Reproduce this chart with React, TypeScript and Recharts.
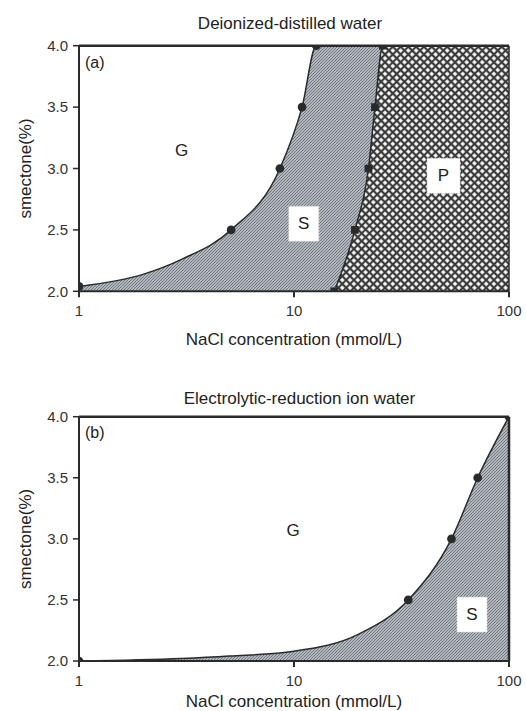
import React from 'react';
import {
  ComposedChart,
  Area,
  Scatter,
  XAxis,
  YAxis,
  ZAxis,
  ReferenceLine,
  ReferenceDot,
} from 'recharts';

// ---------- Data ----------
// Panel (a): Deionized-distilled water
const aGelSolConc = [1, 5.1, 8.6, 10.9, 12.7];
const aGelSolSmectone = [2.04, 2.5, 3.0, 3.5, 4.0];
const aGelSolCurveConc = [1, 2, 3, 5.1, 8.6, 10.9, 12.7, 100];
const aGelSolCurveSmectone = [2.04, 2.14, 2.26, 2.5, 3.0, 3.5, 4.0, 4.0];
const aSolPptConc = [15.4, 19.2, 22.2, 23.8, 25.9];
const aSolPptSmectone = [2.0, 2.5, 3.0, 3.5, 4.0];
const aSolPptCurveConc = [15.4, 19.2, 22.2, 23.8, 25.9, 100];
const aSolPptCurveSmectone = [2.0, 2.5, 3.0, 3.5, 4.0, 4.0];

// Panel (b): Electrolytic-reduction ion water
const bGelSolConc = [1, 34, 54, 71.5, 100];
const bGelSolSmectone = [2.0, 2.5, 3.0, 3.5, 4.0];
const bGelSolCurveConc = [1, 3, 5, 10, 20, 34, 54, 71.5, 100];
const bGelSolCurveSmectone = [2.0, 2.02, 2.04, 2.08, 2.22, 2.5, 3.0, 3.5, 4.0];

// Axes
const xTicks = [1, 10, 100];
const yTicks = [2.0, 2.5, 3.0, 3.5, 4.0];
const xDomain = [1, 100];
const yDomain = [2, 4];

const FONT = '"Liberation Sans", Arial, Helvetica, sans-serif';
const INK = '#2a2a2a';

const toPoints = (xs: number[], ys: number[]) =>
  xs.map((x, i) => ({ conc: x, smectone: ys[i] }));

const boxLabel = (text: string, w: number, h: number, boxed: boolean) => (props: any) => {
  const { cx, cy } = props;
  return (
    <g>
      {boxed && (
        <rect
          x={cx - w / 2}
          y={cy - h / 2}
          width={w}
          height={h}
          fill="#ffffff"
          stroke="#d0d0d0"
          strokeDasharray="1 1"
        />
      )}
      <text
        x={cx}
        y={cy}
        textAnchor="middle"
        dominantBaseline="central"
        fontSize={17}
        fontFamily={FONT}
        fill="#222"
      >
        {text}
      </text>
    </g>
  );
};

const Patterns = () => (
  <defs>
    <pattern id="hatchS" width="3" height="3" patternUnits="userSpaceOnUse">
      <rect width="3" height="3" fill="#b3b7be" />
      <path d="M-1,1 L1,-1 M0,3 L3,0 M2,4 L4,2" stroke="#6a6f78" strokeWidth="0.9" />
    </pattern>
    <pattern
      id="crossP"
      width="5.5"
      height="5.5"
      patternUnits="userSpaceOnUse"
      patternTransform="rotate(45)"
    >
      <rect width="5.5" height="5.5" fill="#ffffff" />
      <path d="M0,2.75 L5.5,2.75 M2.75,0 L2.75,5.5" stroke="#3a3a3a" strokeWidth="2.1" />
    </pattern>
  </defs>
);

const tickStyle = { fontSize: 15, fill: '#333', fontFamily: FONT };

function xAxisEl(height: number, labelOffset: number) {
  return (
    <XAxis
      dataKey="conc"
      type="number"
      scale="log"
      domain={xDomain}
      ticks={xTicks}
      allowDataOverflow
      height={height}
      tick={tickStyle}
      tickSize={6}
      tickMargin={8}
      axisLine={{ stroke: INK, strokeWidth: 2 }}
      tickLine={{ stroke: INK, strokeWidth: 2 }}
      label={{
        value: 'NaCl concentration (mmol/L)',
        position: 'insideBottom',
        offset: labelOffset,
        fontSize: 17,
        fill: '#222',
        fontFamily: FONT,
      }}
    />
  );
}

function yAxisEl() {
  return (
    <YAxis
      dataKey="smectone"
      type="number"
      domain={yDomain}
      ticks={yTicks}
      allowDataOverflow
      width={79}
      tick={tickStyle}
      tickSize={6}
      tickMargin={5}
      tickFormatter={(v: number) => v.toFixed(1)}
      axisLine={{ stroke: INK, strokeWidth: 2 }}
      tickLine={{ stroke: INK, strokeWidth: 1.5 }}
      label={{
        value: 'smectone(%)',
        angle: -90,
        position: 'insideLeft',
        offset: 25,
        fontSize: 17,
        fill: '#222',
        fontFamily: FONT,
        style: { textAnchor: 'middle' },
      }}
    />
  );
}

function PanelA() {
  return (
    <ComposedChart
      width={526}
      height={350}
      margin={{ top: 45.7, right: 17, bottom: 0, left: 0 }}
      style={{ fontFamily: FONT }}
    >
      <Patterns />
      {xAxisEl(58.7, 5)}
      {yAxisEl()}
      <ZAxis type="number" range={[60, 60]} />
      <Area
        data={toPoints(aGelSolCurveConc, aGelSolCurveSmectone)}
        dataKey="smectone"
        type="monotone"
        baseValue={2}
        fill="url(#hatchS)"
        fillOpacity={1}
        stroke={INK}
        strokeWidth={1.5}
        isAnimationActive={false}
      />
      <Area
        data={toPoints(aSolPptCurveConc, aSolPptCurveSmectone)}
        dataKey="smectone"
        type="monotone"
        baseValue={2}
        fill="url(#crossP)"
        fillOpacity={1}
        stroke={INK}
        strokeWidth={1.5}
        isAnimationActive={false}
      />
      <ReferenceLine y={4} stroke={INK} strokeWidth={2.5} />
      <ReferenceLine x={100} stroke={INK} strokeWidth={1.5} />
      <Scatter
        data={toPoints(aGelSolConc, aGelSolSmectone)}
        shape="circle"
        fill={INK}
        isAnimationActive={false}
      />
      <Scatter
        data={toPoints(aSolPptConc, aSolPptSmectone)}
        shape="square"
        fill={INK}
        isAnimationActive={false}
      />
      <ReferenceDot x={3.0} y={3.15} r={0} shape={boxLabel('G', 0, 0, false)} />
      <ReferenceDot x={11.1} y={2.55} r={0} shape={boxLabel('S', 30, 35, true)} />
      <ReferenceDot x={49.6} y={2.94} r={0} shape={boxLabel('P', 33, 35, true)} />
    </ComposedChart>
  );
}

function PanelB() {
  return (
    <ComposedChart
      width={526}
      height={356}
      margin={{ top: 61.7, right: 17, bottom: 0, left: 0 }}
      style={{ fontFamily: FONT }}
    >
      <Patterns />
      {xAxisEl(50, 4)}
      {yAxisEl()}
      <ZAxis type="number" range={[60, 60]} />
      <Area
        data={toPoints(bGelSolCurveConc, bGelSolCurveSmectone)}
        dataKey="smectone"
        type="monotone"
        baseValue={2}
        fill="url(#hatchS)"
        fillOpacity={1}
        stroke={INK}
        strokeWidth={1.5}
        isAnimationActive={false}
      />
      <ReferenceLine y={4} stroke={INK} strokeWidth={2.5} />
      <ReferenceLine x={100} stroke={INK} strokeWidth={2.5} />
      <Scatter
        data={toPoints(bGelSolConc, bGelSolSmectone)}
        shape="circle"
        fill={INK}
        isAnimationActive={false}
      />
      <ReferenceDot x={9.9} y={3.07} r={0} shape={boxLabel('G', 0, 0, false)} />
      <ReferenceDot x={67.3} y={2.38} r={0} shape={boxLabel('S', 30, 35, true)} />
    </ComposedChart>
  );
}

const textStyle: React.CSSProperties = {
  position: 'absolute',
  fontFamily: FONT,
  color: '#222',
  whiteSpace: 'nowrap',
  lineHeight: 1,
};

export default function App() {
  return (
    <div
      style={{
        position: 'absolute',
        left: 0,
        top: 0,
        width: 526,
        height: 711,
        background: '#fff',
        overflow: 'hidden',
      }}
    >
      <div style={{ position: 'absolute', left: 0, top: 0 }}>
        <PanelA />
      </div>
      <div style={{ position: 'absolute', left: 0, top: 355 }}>
        <PanelB />
      </div>
      <div style={{ ...textStyle, left: 90, top: 15, width: 400, textAlign: 'center', fontSize: 17 }}>
        Deionized-distilled water
      </div>
      <div style={{ ...textStyle, left: 99.5, top: 390, width: 400, textAlign: 'center', fontSize: 17 }}>
        Electrolytic-reduction ion water
      </div>
      <div style={{ ...textStyle, left: 85, top: 55, fontSize: 16 }}>(a)</div>
      <div style={{ ...textStyle, left: 85, top: 425, fontSize: 16 }}>(b)</div>
    </div>
  );
}
